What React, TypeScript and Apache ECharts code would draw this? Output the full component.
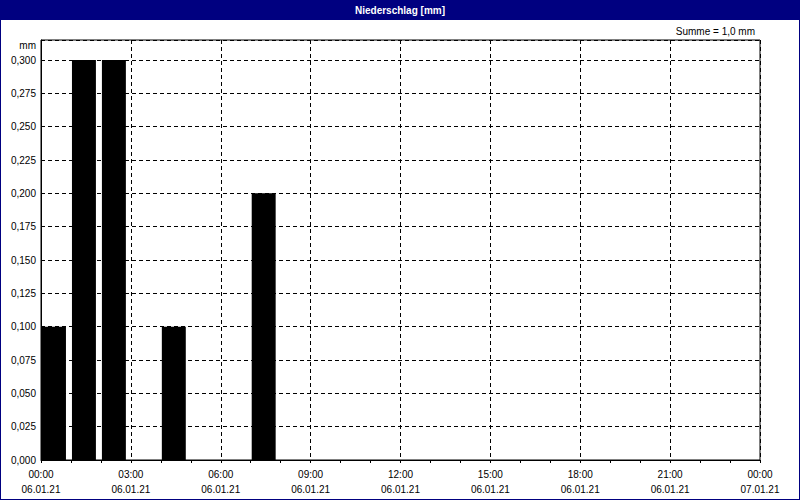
import React, { useEffect, useRef } from "react";
import * as echarts from "echarts";

// Hour (start of interval, hours after 06.01.21 00:00) and precipitation [mm]
const barStartHours = [0, 1, 2, 4, 7];
const barValues = [0.1, 0.3, 0.3, 0.1, 0.2];

// x tick labels every 3 hours
const xTimeLabels = ["00:00", "03:00", "06:00", "09:00", "12:00", "15:00", "18:00", "21:00", "00:00"];
const xDateLabels = ["06.01.21", "06.01.21", "06.01.21", "06.01.21", "06.01.21", "06.01.21", "06.01.21", "06.01.21", "07.01.21"];

const titleText = "Niederschlag [mm]";
const unitText = "mm";
const yMaxLabel = 0.3;

const FONT = "'Liberation Sans', Arial, sans-serif";

export default function App() {
  const ref = useRef<HTMLDivElement>(null);

  useEffect(() => {
    if (!ref.current) return;
    const chart = echarts.init(ref.current, undefined, { renderer: "svg" });
    const sum = barValues.reduce((a, b) => a + b, 0);
    const data = barStartHours.map((h, i) => [h, barValues[i]]);

    chart.setOption({
      animation: false,
      backgroundColor: "#ffffff",
      textStyle: { fontFamily: FONT },
      grid: {
        left: 41,
        right: 40,
        top: 40,
        bottom: 40,
        show: true,
        borderColor: "#000",
        borderWidth: 1,
        backgroundColor: "#fff",
      },
      xAxis: {
        type: "value",
        min: 0,
        max: 24,
        interval: 3,
        axisLine: { show: true, lineStyle: { color: "#000", width: 1 } },
        axisTick: { show: true, length: 3, lineStyle: { color: "#000" } },
        minorTick: { show: true, splitNumber: 3, length: 3, lineStyle: { color: "#000" } },
        splitLine: { show: true, lineStyle: { color: "#000", type: [4, 3], width: 1 } },
        axisLabel: {
          color: "#000",
          fontSize: 10,
          fontFamily: FONT,
          lineHeight: 15,
          margin: 7,
          formatter: (v: number) => {
            const i = Math.round(v / 3);
            return `${xTimeLabels[i] ?? ""}\n${xDateLabels[i] ?? ""}`;
          },
        },
      },
      yAxis: {
        type: "value",
        min: 0,
        max: 0.315,
        interval: 0.025,
        axisLine: { show: true, lineStyle: { color: "#000", width: 1 } },
        axisTick: { show: false },
        splitLine: { show: true, lineStyle: { color: "#000", type: [4, 3], width: 1 } },
        axisLabel: {
          color: "#000",
          fontSize: 10,
          fontFamily: FONT,
          margin: 5,
          formatter: (v: number) => (v > yMaxLabel + 1e-6 ? "" : v.toFixed(3).replace(".", ",")),
        },
      },
      series: [
        {
          type: "custom",
          data,
          renderItem: (params: any, api: any) => {
            const start = api.value(0);
            const v = api.value(1);
            const p0 = api.coord([start, 0]);
            const p1 = api.coord([start + 1, v]);
            const w = p1[0] - p0[0];
            return {
              type: "rect",
              shape: { x: p0[0] + 1, y: p1[1], width: w - 6, height: p0[1] - p1[1] },
              style: { fill: "#000" },
            };
          },
        },
      ],
      graphic: [
        {
          type: "rect",
          shape: { x: 0, y: 0, width: 800, height: 20 },
          style: { fill: "#000080" },
          silent: true,
        },
        {
          type: "text",
          x: 400,
          y: 10,
          style: {
            text: titleText,
            fill: "#fff",
            font: `bold 10px ${FONT}`,
            align: "center",
            verticalAlign: "middle",
          },
        },
        {
          type: "rect",
          shape: { x: 0, y: 0, width: 800, height: 500 },
          style: { fill: "none", stroke: "#000080", lineWidth: 2 },
          silent: true,
        },
        {
          type: "text",
          x: 755,
          y: 31,
          style: {
            text: `Summe = ${sum.toFixed(1).replace(".", ",")} mm`,
            fill: "#000",
            font: `10px ${FONT}`,
            align: "right",
            verticalAlign: "middle",
          },
        },
        {
          type: "text",
          x: 36,
          y: 45,
          style: {
            text: unitText,
            fill: "#000",
            font: `10px ${FONT}`,
            align: "right",
            verticalAlign: "middle",
          },
        },
      ],
    });

    return () => chart.dispose();
  }, []);

  return (
    <div
      ref={ref}
      style={{ position: "absolute", left: 0, top: 0, width: 800, height: 500 }}
    />
  );
}
